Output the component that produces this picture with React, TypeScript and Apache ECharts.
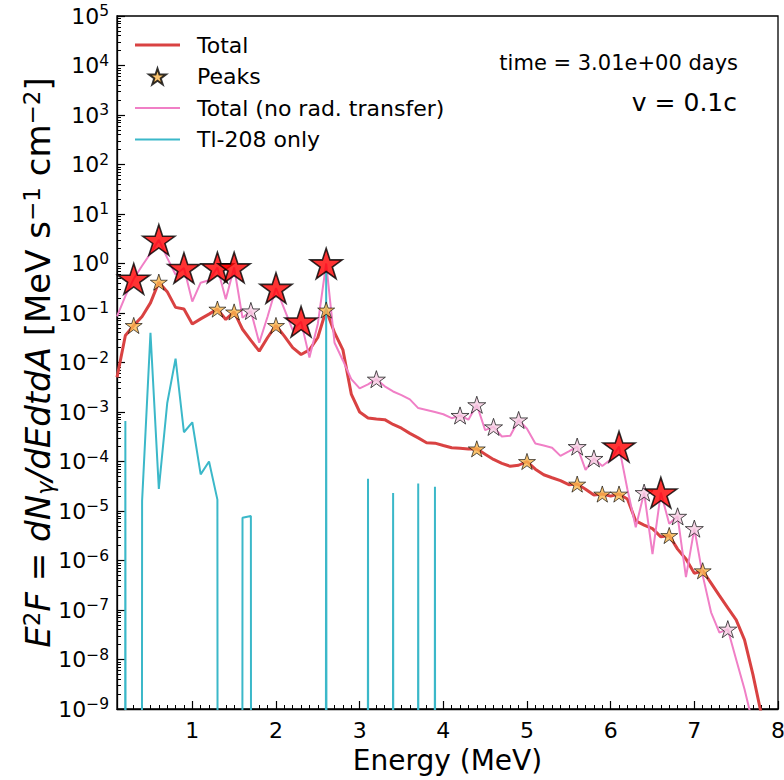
import React, { useEffect, useRef } from "react";
import * as echarts from "echarts";

// ---------------- data ----------------
const energy = [
  0.1, 0.2, 0.3, 0.4, 0.5, 0.6, 0.7, 0.8, 0.9, 1.0,
  1.1, 1.2, 1.3, 1.4, 1.5, 1.6, 1.7, 1.8, 1.9, 2.0,
  2.1, 2.2, 2.3, 2.4, 2.5, 2.6, 2.7, 2.8, 2.9, 3.0,
  3.1, 3.2, 3.3, 3.4, 3.5, 3.6, 3.7, 3.8, 3.9, 4.0,
  4.1, 4.2, 4.3, 4.4, 4.5, 4.6, 4.7, 4.8, 4.9, 5.0,
  5.1, 5.2, 5.3, 5.4, 5.5, 5.6, 5.7, 5.8, 5.9, 6.0,
  6.1, 6.2, 6.3, 6.4, 6.5, 6.6, 6.7, 6.8, 6.9, 7.0,
  7.1, 7.2, 7.3, 7.4, 7.5, 7.6, 7.7, 7.8,
];

const totalFlux = [
  5e-3, 0.035, 0.056, 0.085, 0.16, 0.42, 0.27, 0.13, 0.12, 0.06,
  0.076, 0.095, 0.12, 0.074, 0.105, 0.047, 0.028, 0.017, 0.032, 0.056,
  0.034, 0.02, 0.0145, 0.018, 0.032, 0.115, 0.04, 0.018, 2.3e-3, 1.0e-3,
  7.6e-4, 7.2e-4, 7.0e-4, 5.6e-4, 4.7e-4, 3.7e-4, 3.0e-4, 2.4e-4, 2.35e-4, 2.1e-4,
  1.9e-4, 1.85e-4, 1.78e-4, 1.8e-4, 1.4e-4, 1.1e-4, 9.2e-5, 8.0e-5, 8.4e-5, 1.0e-4,
  7.0e-5, 5.4e-5, 4.7e-5, 4.1e-5, 3.4e-5, 3.5e-5, 2.75e-5, 2.1e-5, 2.2e-5, 2.0e-5,
  2.2e-5, 1.75e-5, 6.3e-6, 5.2e-6, 4.4e-6, 3.0e-6, 3.2e-6, 1.7e-6, 1.07e-6, 5.5e-7,
  6.2e-7, 3.5e-7, 1.95e-7, 1.1e-7, 6.3e-8, 2.5e-8, 5e-9, 8e-10,
];

const noTransferFlux = [
  0.085, 0.22, 0.49, 0.9, 1.6, 3.0, 1.3, 0.6, 0.81, 0.17,
  0.41, 0.46, 0.83, 0.19, 0.83, 0.08, 0.11, 0.025, 0.085, 0.32,
  0.12, 0.045, 0.067, 0.0126, 0.06, 1.0, 0.025, 0.011, 4.6e-3, 3.0e-3,
  3.6e-3, 4.6e-3, 3.3e-3, 2.6e-3, 2.2e-3, 1.8e-3, 1.2e-3, 1.1e-3, 1.0e-3, 9.0e-4,
  7.5e-4, 8.5e-4, 7.0e-4, 1.4e-3, 4.3e-4, 5.0e-4, 3.2e-4, 3.3e-4, 6.9e-4, 4.6e-4,
  2.3e-4, 2.1e-4, 1.9e-4, 1.3e-4, 1.6e-4, 2.0e-4, 6.8e-5, 1.15e-4, 8.1e-5, 1.1e-4,
  2.0e-4, 2.75e-5, 4.7e-6, 2.35e-5, 1.35e-6, 2.35e-5, 5.5e-6, 7.8e-6, 4.6e-7, 4.4e-6,
  5.0e-7, 9.0e-8, 3.5e-8, 4.1e-8, 1.0e-8, 2.5e-9, 5.0e-10,
];

const tlEnergy = [
  0.1, 0.2, 0.3, 0.4, 0.5, 0.6, 0.7, 0.8, 0.9, 1.0,
  1.1, 1.2, 1.3, 1.4, 1.5, 1.6, 1.7, 1.8, 1.9, 2.0,
  2.1, 2.2, 2.3, 2.4, 2.5, 2.6, 2.7, 2.8, 2.9, 3.0,
  3.1, 3.2, 3.3, 3.4, 3.5, 3.6, 3.7, 3.8, 3.9, 4.0,
];
const tl208Flux = [
  0, 6.6e-4, 0, 1.6e-5, 0.04, 2.8e-5, 1.5e-3, 0.012, 3.9e-4, 6.2e-4,
  5.5e-5, 1.0e-4, 1.7e-5, 0, 0, 7.3e-6, 7.9e-6, 0, 0, 0,
  0, 0, 0, 0, 0, 0.72, 0, 0, 0, 0,
  4.5e-5, 0, 0, 2.3e-5, 0, 0, 3.6e-5, 0, 3.1e-5, 0,
];

const totalPeakEnergies = [0.3, 0.6, 1.3, 1.5, 2.0, 2.6, 4.4, 5.0, 5.6, 5.9, 6.1, 6.7, 7.1];
const noTransferMajorPeakEnergies = [0.3, 0.6, 0.9, 1.3, 1.5, 2.0, 2.3, 2.6, 6.1, 6.6];
const noTransferMinorPeakEnergies = [1.7, 3.2, 4.2, 4.4, 4.6, 4.9, 5.6, 5.8, 6.4, 6.8, 7.0, 7.4];

const xTickValues = [1, 2, 3, 4, 5, 6, 7, 8];
const yTickExponents = [-9, -8, -7, -6, -5, -4, -3, -2, -1, 0, 1, 2, 3, 4, 5];

// ---------------- helpers ----------------
const FONT = '"DejaVu Sans", "Liberation Sans", sans-serif';
// matplotlib clips non-positive values on a log axis to a tiny number
const clipLog = (v: number) => (v > 0 ? v : 1e-300);

const starPath = (() => {
  const pts: string[] = [];
  for (let i = 0; i < 10; i++) {
    const r = i % 2 === 0 ? 1 : 0.382;
    const a = -Math.PI / 2 + (i * Math.PI) / 5;
    pts.push(`${(r * Math.cos(a)).toFixed(4)} ${(r * Math.sin(a)).toFixed(4)}`);
  }
  return "path://M" + pts.join("L") + "Z";
})();

const pairs = (xs: number[], ys: number[]) => xs.map((x, i) => [x, clipLog(ys[i])]);
const lookup = (es: number[], xs: number[], ys: number[]) =>
  es.map((e) => {
    const i = xs.findIndex((x) => Math.abs(x - e) < 1e-6);
    return [e, ys[i]];
  });

const sup = (n: number) => (n < 0 ? "\u2212" + Math.abs(n) : String(n));

export default function App() {
  const ref = useRef<HTMLDivElement>(null);

  useEffect(() => {
    if (!ref.current) return;
    const chart = echarts.init(ref.current, undefined, { renderer: "svg" });

    const yTickValues = yTickExponents.map((e) => Math.pow(10, e));
    const yMinor: number[] = [];
    for (let e = -9; e < 5; e++) for (let m = 2; m <= 9; m++) yMinor.push(m * Math.pow(10, e));
    const xMinor: number[] = [];
    for (let k = 1; k <= 80; k++) if (k % 10 !== 0) xMinor.push(k / 10);

    const option: any = {
      animation: false,
      backgroundColor: "#fff",
      grid: {
        left: 117,
        right: 6,
        top: 16,
        bottom: 71,
        show: true,
        borderColor: "#000",
        borderWidth: 1.3,
        backgroundColor: "transparent",
        outerBoundsMode: "none",
      },
      legend: {
        orient: "vertical",
        left: 130,
        top: 29,
        itemWidth: 45,
        itemHeight: 16,
        itemGap: 9.5,
        selectedMode: false,
        symbolKeepAspect: true,
        textStyle: { fontSize: 22, fontFamily: FONT, color: "#000", lineHeight: 22, padding: [0, 0, 0, 12] },
        data: [
          { name: "Total", icon: "path://M0 0H45V3H0Z" },
          { name: "Peaks", icon: starPath },
          { name: "Total (no rad. transfer)", icon: "path://M0 0H45V2H0Z" },
          { name: "Tl-208 only", icon: "path://M0 0H45V2H0Z" },
        ],
      },
      xAxis: [
        {
          type: "value",
          min: 0.1,
          max: 8,
          name: "Energy (MeV)",
          nameLocation: "middle",
          nameGap: 37,
          nameMoveOverlap: false,
          nameTextStyle: { fontSize: 28, fontFamily: FONT, color: "#000" },
          axisLine: { show: true, lineStyle: { color: "#000", width: 1.3 } },
          axisTick: { show: true, inside: true, length: 8, lineStyle: { color: "#000", width: 1.2 }, customValues: xTickValues },
          axisLabel: { show: true, customValues: xTickValues, fontSize: 22, fontFamily: FONT, color: "#000", margin: 10 },
          splitLine: { show: false },
        },
        {
          type: "value",
          min: 0.1,
          max: 8,
          position: "bottom",
          axisLine: { show: false },
          axisTick: { show: true, inside: true, length: 4, lineStyle: { color: "#000", width: 1 }, customValues: xMinor },
          axisLabel: { show: false },
          splitLine: { show: false },
        },
      ],
      yAxis: [
        {
          type: "log",
          logBase: 10,
          min: 1e-9,
          max: 1e5,
          name:
            "{i|E}{su|2}{i|F} {n|=} {i|dN}{sb|\u03b3}{i|/dEdtdA} {n|[MeV s}{su|\u22121}{n| cm}{su|\u22122}{n|]}",
          nameLocation: "middle",
          nameRotate: 90,
          nameGap: 61,
          nameMoveOverlap: false,
          nameTextStyle: {
            fontSize: 34,
            fontFamily: FONT,
            color: "#000",
            rich: {
              i: { fontSize: 34, fontStyle: "italic", fontFamily: FONT, color: "#000", lineHeight: 36 },
              n: { fontSize: 34, fontFamily: FONT, color: "#000", lineHeight: 36 },
              su: { fontSize: 23, fontFamily: FONT, color: "#000", lineHeight: 16, verticalAlign: "top" },
              sb: { fontSize: 23, fontStyle: "italic", fontFamily: FONT, color: "#000", lineHeight: 16, verticalAlign: "bottom" },
            },
          },
          axisLine: { show: true, lineStyle: { color: "#000", width: 1.3 } },
          axisTick: { show: true, inside: true, length: 8, lineStyle: { color: "#000", width: 1.2 }, customValues: yTickValues },
          axisLabel: {
            show: true,
            customValues: yTickValues,
            margin: 8,
            formatter: (v: number) => `{b|10}{s|${sup(Math.round(Math.log10(v)))}}`,
            rich: {
              b: { fontSize: 22, fontFamily: FONT, color: "#000", lineHeight: 26 },
              s: { fontSize: 15.5, fontFamily: FONT, color: "#000", lineHeight: 14, verticalAlign: "top" },
            },
          },
          splitLine: { show: false },
        },
        {
          type: "log",
          logBase: 10,
          min: 1e-9,
          max: 1e5,
          position: "left",
          axisLine: { show: false },
          axisTick: { show: true, inside: true, length: 4, lineStyle: { color: "#000", width: 1 }, customValues: yMinor },
          axisLabel: { show: false },
          splitLine: { show: false },
        },
      ],
      graphic: [
        {
          type: "text",
          right: 46,
          top: 52,
          style: { text: "time = 3.01e+00 days", font: `21px ${FONT}`, fill: "#000" },
        },
        {
          type: "text",
          right: 47,
          top: 90,
          style: { text: "v = 0.1c", font: `25px ${FONT}`, fill: "#000" },
        },
      ],
      series: [
        {
          name: "Total",
          type: "line",
          data: pairs(energy, totalFlux),
          symbol: "none",
          showSymbol: false,
          lineStyle: { color: "#d94242", width: 3 },
          itemStyle: { color: "#d94242" },
          z: 2,
        },
        {
          name: "Peaks",
          type: "scatter",
          data: lookup(totalPeakEnergies, energy, totalFlux),
          symbol: starPath,
          symbolSize: 17,
          symbolKeepAspect: true,
          itemStyle: { color: "#f9b54c", borderColor: "#000", borderWidth: 0.8 },
          z: 6,
        },
        {
          name: "Total (no rad. transfer)",
          type: "line",
          data: pairs(energy, noTransferFlux),
          symbol: "none",
          showSymbol: false,
          lineStyle: { color: "#f07fc6", width: 2 },
          itemStyle: { color: "#f07fc6" },
          z: 3,
        },
        {
          name: "Tl-208 only",
          type: "line",
          data: pairs(tlEnergy, tl208Flux),
          symbol: "none",
          showSymbol: false,
          lineStyle: { color: "#3bb8c9", width: 2 },
          itemStyle: { color: "#3bb8c9" },
          z: 4,
        },
        {
          name: "no-RT minor peaks",
          type: "scatter",
          data: lookup(noTransferMinorPeakEnergies, energy, noTransferFlux),
          symbol: starPath,
          symbolSize: 18,
          symbolKeepAspect: true,
          itemStyle: { color: "#f6cce2", borderColor: "#222", borderWidth: 1 },
          z: 7,
        },
        {
          name: "no-RT major peaks",
          type: "scatter",
          data: lookup(noTransferMajorPeakEnergies, energy, noTransferFlux),
          symbol: starPath,
          symbolSize: 32,
          symbolKeepAspect: true,
          itemStyle: { color: "#ff0000", borderColor: "#000", borderWidth: 1.6 },
          z: 8,
        },
      ],
    };

    chart.setOption(option);
    return () => chart.dispose();
  }, []);

  return (
    <div
      ref={ref}
      style={{ position: "fixed", left: 0, top: 0, width: 784, height: 780, background: "#fff" }}
    />
  );
}
